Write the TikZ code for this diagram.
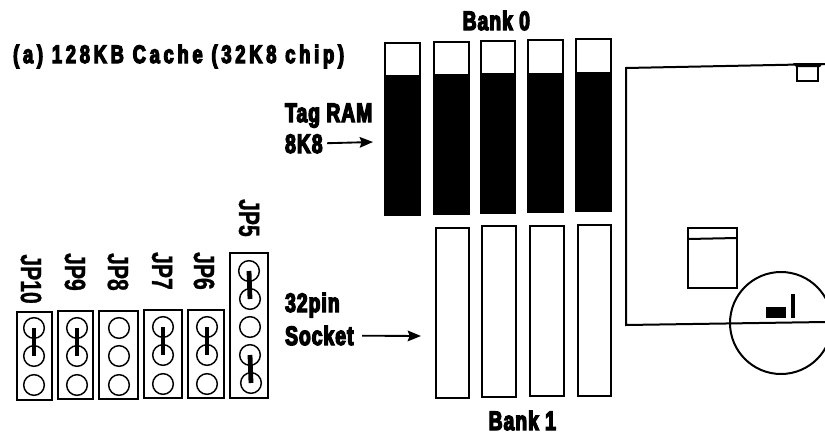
\documentclass[tikz,border=0pt]{standalone}
\usepackage{fontspec}
\usetikzlibrary{arrows.meta}
\setmainfont[FakeStretch=0.72,FakeBold=5,LetterSpace=4]{Liberation Sans Bold}
\newfontfamily\titlefont[FakeStretch=0.72,FakeBold=5,LetterSpace=15]{Liberation Sans Bold}
\newfontfamily\jpfont[FakeStretch=0.72,FakeBold=1]{Liberation Sans Bold}
\tikzset{
    lbl/.style={inner sep=0pt, outer sep=3.5pt, anchor=base west, font=\fontsize{20}{22}\selectfont},
    jplbl/.style={inner sep=0pt, rotate=-90, anchor=east, font=\jpfont\fontsize{22}{24}\selectfont},
    jpbox/.style={draw, line width=1.7pt},
    pin/.style={draw, circle, line width=1.1pt, minimum size=15.5pt, inner sep=0pt},
    jumper/.style={line width=3.6pt},
    chipbox/.style={draw, line width=1.8pt},
    outline/.style={draw, line width=1.5pt},
    pointer/.style={->, line width=1.4pt},
}
\begin{document}
\begin{tikzpicture}[x=0.75pt, y=-0.75pt, >={Stealth[length=10pt,width=8pt,inset=1.5pt]}]
    \useasboundingbox (0,0) rectangle (825,436);

    % titles
    \node[lbl, font=\titlefont\fontsize{19}{21}\selectfont] (title) at (8.5,63) {(a) 128KB Cache (32K8 chip)};
    \node[lbl] (bankzero) at (458,30) {Bank 0};
    \node[lbl] (bankone) at (484,430) {Bank 1};

    % bank 0 chips
    \foreach \xa/\xb/\ya/\ys/\yb in {385/420/43/75/216, 434/469/42/74/215, 481/515/41/73/214, 528/563/40/73/213, 576/611/39/72/212} {
        \draw[chipbox] (\xa,\ys) -- (\xa,\ya) -- (\xb,\ya) -- (\xb,\ys);
        \fill (\xa-1,\ys) rectangle (\xb+1,\yb);
    }

    % bank 1 sockets
    \foreach \xa/\xb/\ya/\yb in {436/469/228/398, 482/516/226/397, 530/564/226/396, 578/611/225/396} {
        \draw[chipbox] (\xa,\ya) rectangle (\xb,\yb);
    }

    \node[lbl] (tagram) at (280.5,122) {Tag RAM};
    \node[lbl] (tagsize) at (280.5,153) {8K8};
    \coordinate (tagtip) at (373,142);
    \draw[pointer] (tagsize) -- (tagtip);

    \node[lbl] (pins) at (280.5,312) {32pin};
    \node[lbl] (socket) at (280.5,345) {Socket};
    \coordinate (socktip) at (421,336);
    \draw[pointer, shorten <=3pt] (socket) -- (socktip);

    % jumpers
    \foreach \n/\xa/\xb/\ya/\yb/\px/\py/\lx/\ly in {10/17/52/312/400/34/328/31/304, 9/58/93/311/399/77/328/75/291, 8/99/138/311/399/119/328/118/291, 7/144/182/310/398/163/327/162/290, 6/188/224/310/398/207/327/204/290} {
        \draw[jpbox] (\xa,\ya) rectangle (\xb,\yb);
        \node[pin] (a\n) at (\px,\py) {};
        \node[pin] (b\n) at (\px,\py+28) {};
        \node[pin] (c\n) at (\px,\py+57) {};
        \node[jplbl] (lbl\n) at (\lx,\ly) {JP\n};
    }
    \draw[jumper] (a10.center) -- (b10.center);
    \draw[jumper] (a9.center) -- (b9.center);
    \draw[jumper] (a7.center) -- (b7.center);
    \draw[jumper] (a6.center) -- (b6.center);

    \draw[jpbox] (230,253) rectangle (268,398);
    \foreach \n/\px/\py in {1/249/271, 2/250/299, 3/250/327, 4/250/355, 5/251/383} {
        \node[pin] (e\n) at (\px,\py) {};
    }
    \draw[jumper] (e1.center) -- (e2.center);
    \draw[jumper] (e4.center) -- (e5.center);
    \node[jplbl] (lbl5) at (249,237) {JP5};

    % board outline
    \draw[outline] (825,64) -- (626,68) -- (626,325) -- (825,322);
    \fill (793,63) -- (823,63) -- (820,67) -- (796,67) -- cycle;
    \draw[outline] (797,66) rectangle (818,81);
    \draw[outline] (688,228) rectangle (737,288);
    \draw[outline] (688,239) -- (737,238);
    \draw[outline] (781,323) circle (51);

    % pin marks
    \foreach \x in {768,772,776,780,784} {
        \draw[line width=2.6pt] (\x,307) -- (\x,318);
    }
    \draw[line width=3pt] (793,294) -- (793,318);
\end{tikzpicture}
\end{document}
